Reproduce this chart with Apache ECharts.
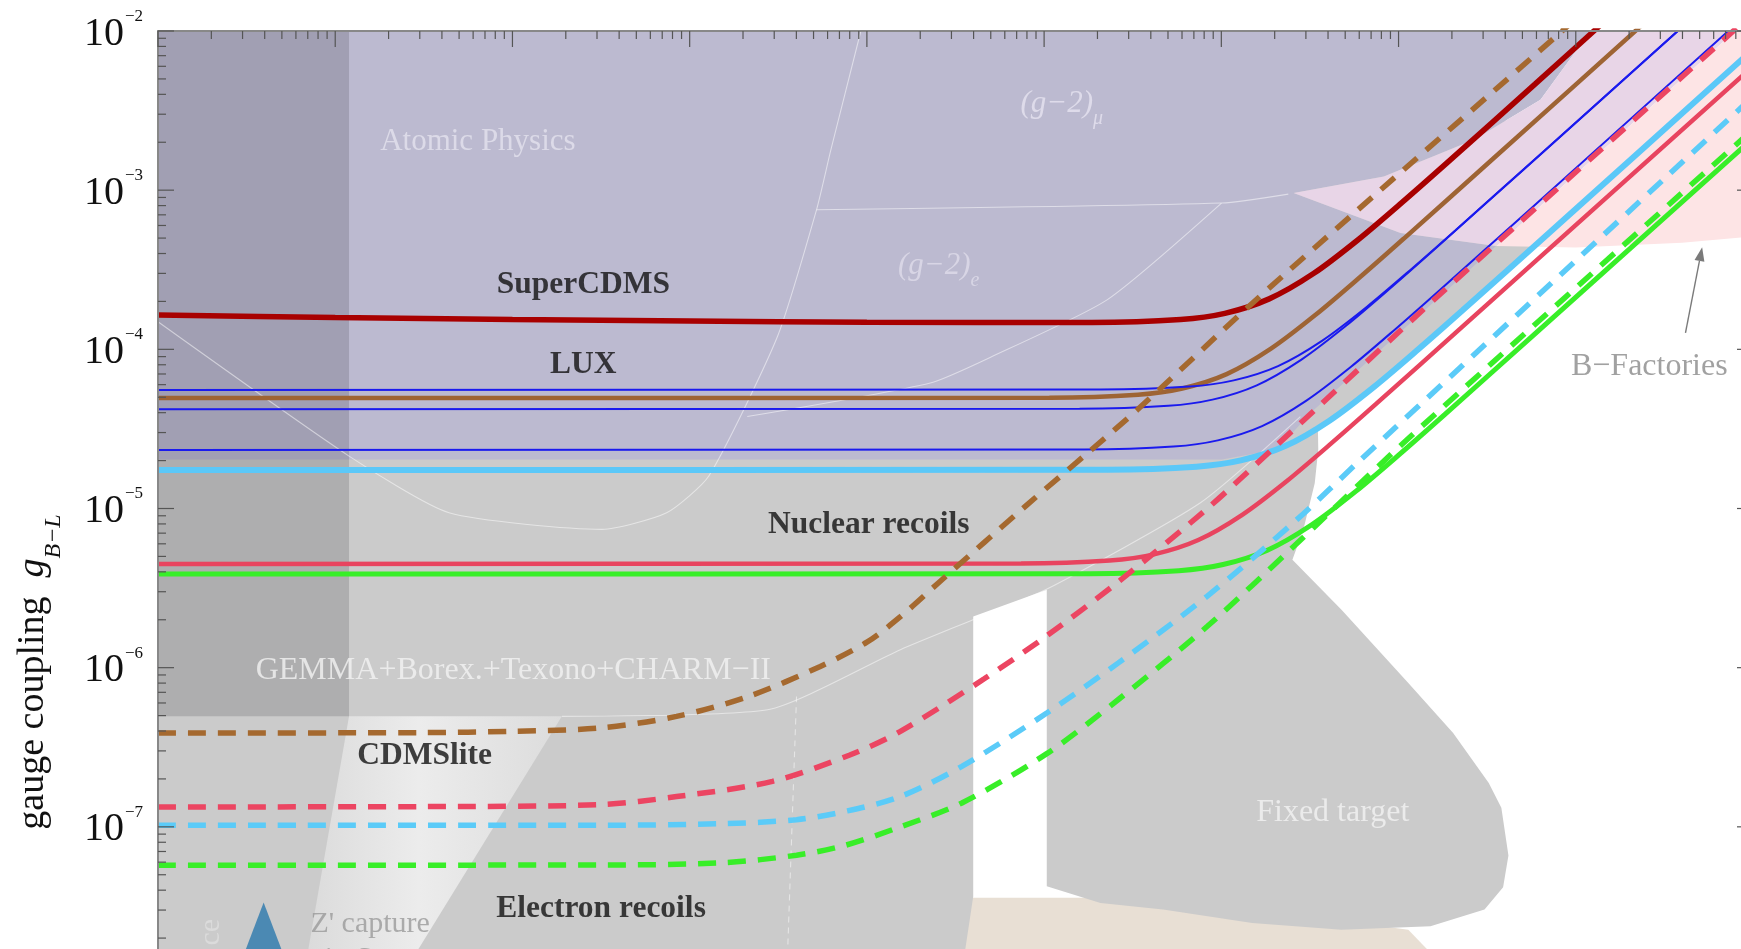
<!DOCTYPE html>
<html>
<head>
<meta charset="utf-8">
<script src="https://cdn.jsdelivr.net/npm/echarts/dist/echarts.min.js"></script>
<style>
html,body{margin:0;padding:0;background:#ffffff;}
#chart{width:1741px;height:949px;}
</style>
</head>
<body>
<div id="chart"></div>
<script>
// ---------- DATA (log10 of Z' mass in MeV, log10 of gauge coupling) ----------
// Nuclear-recoil limits (solid)
const superCDMS   = [[-5,-3.785],[-4,-3.80],[-3,-3.812],[-2,-3.822],[-1,-3.83],[0.27,-3.832],[0.77,-3.813],[1.02,-3.774],[1.27,-3.683],[1.52,-3.524],[1.77,-3.313],[2.02,-3.077],[2.27,-2.832],[2.77,-2.334],[3.4,-1.70]];
const luxBrown    = [[-5,-4.306],[0.03,-4.304],[0.53,-4.285],[0.78,-4.246],[1.03,-4.156],[1.28,-3.996],[1.53,-3.785],[1.78,-3.549],[2.03,-3.304],[2.53,-2.806],[3.6,-1.736]];
const blueA       = [[-5,-4.255],[0.32,-4.253],[0.82,-4.234],[1.07,-4.195],[1.32,-4.105],[1.57,-3.945],[1.82,-3.734],[2.07,-3.498],[2.32,-3.253],[2.82,-2.755],[3.9,-1.675]];
const blueB       = [[-5,-4.376],[0.2,-4.374],[0.7,-4.355],[0.95,-4.316],[1.2,-4.226],[1.45,-4.066],[1.7,-3.855],[1.95,-3.619],[2.2,-3.374],[2.7,-2.876],[3.9,-1.676]];
const blueC       = [[-5,-4.632],[0.23,-4.630],[0.73,-4.611],[0.98,-4.572],[1.23,-4.482],[1.48,-4.322],[1.73,-4.111],[1.98,-3.875],[2.23,-3.630],[2.73,-3.132],[4.1,-1.76]];
const cyanSolid   = [[-5,-4.758],[0.36,-4.756],[0.86,-4.737],[1.11,-4.698],[1.36,-4.608],[1.61,-4.448],[1.86,-4.237],[2.11,-4.001],[2.36,-3.756],[2.86,-3.258],[4.1,-2.016]];
const redSolid    = [[-5,-5.348],[-0.13,-5.346],[0.37,-5.327],[0.62,-5.288],[0.87,-5.198],[1.12,-5.038],[1.37,-4.827],[1.62,-4.591],[1.87,-4.346],[2.37,-3.848],[4.1,-2.121]];
const greenSolid  = [[-5,-5.412],[0.26,-5.41],[0.76,-5.391],[1.01,-5.352],[1.26,-5.262],[1.51,-5.102],[1.76,-4.891],[2.01,-4.655],[2.26,-4.41],[2.76,-3.912],[4.1,-2.575]];
// Electron-recoil limits (dashed)
const brownDashed = [[-5,-6.411],[-3.5,-6.408],[-3,-6.400],[-2.505,-6.379],[-2.074,-6.306],[-1.668,-6.181],[-1.263,-5.992],[-1.0,-5.84],[-0.811,-5.68],[-0.589,-5.46],[-0.085,-4.966],[0.267,-4.631],[0.526,-4.38],[1.175,-3.71],[1.727,-3.166],[2.923,-2.0],[3.3,-1.62]];
const redDashed   = [[-5,-6.875],[-3.5,-6.873],[-2.505,-6.861],[-2.074,-6.81],[-1.533,-6.714],[-1.1,-6.55],[-0.811,-6.40],[-0.338,-6.07],[0.015,-5.80],[0.419,-5.46],[0.921,-5.00],[1.30,-4.615],[2.256,-3.632],[4.1,-1.79]];
const cyanDashed  = [[-5,-6.99],[-2.5,-6.99],[-1.805,-6.98],[-1.397,-6.955],[-1.11,-6.90],[-0.811,-6.81],[-0.464,-6.62],[0.015,-6.285],[0.419,-5.97],[0.921,-5.55],[1.426,-5.07],[1.78,-4.70],[4.1,-2.31]];
const greenDashed = [[-5,-7.241],[-2.5,-7.24],[-1.805,-7.225],[-1.397,-7.178],[-1.128,-7.118],[-0.811,-7.0],[-0.464,-6.85],[0.015,-6.54],[0.419,-6.2],[0.921,-5.74],[1.426,-5.22],[2.055,-4.56],[4.1,-2.52]];

// Excluded regions (polygon outlines)
const grayRegion  = [[-5,-2],[2.5,-2],[2.75,-3.36],[2.36,-3.756],[2.11,-4.001],[1.86,-4.237],[1.61,-4.448],[1.545,-4.50],[1.547,-4.629],[1.527,-4.841],[1.47,-5.10],[1.422,-5.257],[1.401,-5.322],[1.678,-5.636],[2.055,-6.097],[2.308,-6.410],[2.509,-6.725],[2.58,-6.88],[2.62,-7.18],[2.59,-7.38],[2.485,-7.520],[2.180,-7.625],[1.678,-7.646],[1.174,-7.604],[0.671,-7.520],[0.318,-7.479],[0.015,-7.374],[0.015,-5.510],[-0.400,-5.678],[-0.400,-7.437],[-0.476,-8],[-5,-8]];
const beigeRegion = [[-0.489,-7.446],[0.40,-7.446],[1.2,-7.52],[2.055,-7.646],[2.36,-8],[-0.489,-8]];
const sunCapture  = [[-3.922,-6.306],[-2.721,-6.306],[-3.659,-8],[-4.188,-8]];
const darkBand    = [[-5,-2],[-3.922,-2],[-3.922,-6.306],[-5,-6.306]];
const purpleRegion= [[-5,-2],[3.083,-2],[2.801,-2.432],[2.425,-2.683],[1.917,-2.914],[1.408,-3.018],[2.011,-3.269],[2.55,-3.35],[1.504,-4.399],[1.316,-4.629],[1.003,-4.692],[-5,-4.692]];
const lavenderRegion = [[1.408,-3.018],[1.917,-2.914],[2.425,-2.683],[2.801,-2.432],[3.083,-2],[3.90,-2],[2.55,-3.35],[2.011,-3.269]];
const bFactories  = [[2.55,-3.35],[3.90,-2],[4.2,-2],[4.2,-3.27],[3.6,-3.33],[3.0,-3.36]];

// Thin boundary lines
const atomicEdge  = [[-5,-3.827],[-3.922,-4.671],[-3.358,-5.027],[-2.494,-5.131],[-2.130,-5.027],[-1.892,-4.796],[-1.504,-3.918],[-1.284,-3.123],[-1.203,-2.746],[-1.034,-2]];
const g2eTopEdge  = [[-1.284,-3.123],[1.003,-3.081],[1.378,-3.025]];
const g2eDiagEdge = [[1.001,-3.081],[0.355,-3.689],[-0.294,-4.045],[-0.642,-4.211],[-1.675,-4.422]];
const gemmaEdge   = [[-2.721,-6.306],[-1.560,-6.264],[-0.811,-5.887],[-0.401,-5.699],[0.013,-5.508],[0.882,-4.964],[1.446,-4.423]];
const dashedEdge  = [[-1.397,-6.181],[-1.454,-8]];

const blueTriangle = [[-4.404,-7.727]];
const bFactArrow   = [[3.619,-3.897],[3.713,-3.358]];

// Ticks
const xTickDecades = [-5,-4,-3,-2,-1,0,1,2,3,4];
const yTickDecades = [-8,-7,-6,-5,-4,-3,-2];
const minorSteps   = [2,3,4,5,6,7,8,9];

// Annotations
const annotationText = ['Atomic Physics','(g−2)μ','(g−2)e','SuperCDMS','LUX','Nuclear recoils','CDMSlite','Electron recoils','GEMMA+Borex.+Texono+CHARM−II','Fixed target','Z\' capture','in Sun','ce','B−Factories'];
const annotationAt   = [[-3.195,-2.697],[0.10,-2.488],[-0.595,-3.506],[-2.60,-3.597],[-2.60,-4.099],[-0.99,-5.103],[-3.496,-6.554],[-2.50,-7.516],[-2.995,-6.017],[1.629,-6.909],[-3.803,-7.614],[-3.84,-7.83],[-4.699,-7.662],[3.415,-4.106]];

// ---------- BUILD ----------
const SERIF = "'Liberation Serif','Times New Roman','DejaVu Serif',serif";
const toData = pts => pts.map(p => [Math.pow(10, p[0]), Math.pow(10, p[1])]);

function curve(name, pts, color, width, dashed, z) {
  return {
    name, type: 'line', data: toData(pts), symbol: 'none', showSymbol: false,
    smooth: 0.3, silent: true, clip: true, z,
    lineStyle: { color, width, type: dashed ? [18, 12] : 'solid', cap: 'butt' }
  };
}
function thin(name, pts, dashed) {
  return {
    name, type: 'line', data: toData(pts), symbol: 'none', showSymbol: false,
    smooth: 0.2, silent: true, clip: true, z: 7,
    lineStyle: { color: 'rgba(255,255,255,0.5)', width: 1.1, type: dashed ? [6, 5] : 'solid' }
  };
}
function region(name, pts, fill, z) {
  const data = toData(pts);
  return {
    name, type: 'custom', coordinateSystem: 'cartesian2d', silent: true, clip: true, z,
    data,
    renderItem: (params, api) => params.dataIndex === 0 ? {
      type: 'polygon', shape: { points: data.map(d => api.coord(d)) }, style: { fill }
    } : null
  };
}
function ticks(name, data, dir) {
  return {
    name, type: 'custom', coordinateSystem: 'cartesian2d', silent: true, z: 30, data,
    renderItem: (params, api) => {
      const p = api.coord([api.value(0), api.value(1)]);
      const len = api.value(2) ? 16 : 8;
      let x2 = p[0], y2 = p[1];
      if (dir === 'down') y2 += len; else if (dir === 'right') x2 += len; else x2 -= len;
      return { type: 'line', shape: { x1: p[0], y1: p[1], x2, y2 }, style: { stroke: '#555', lineWidth: 1.2 } };
    }
  };
}

const topTicks = [], leftTicks = [], rightTicks = [];
xTickDecades.forEach(d => {
  topTicks.push([Math.pow(10, d), 1e-2, 1]);
  if (d < 4) minorSteps.forEach(k => topTicks.push([k * Math.pow(10, d), 1e-2, 0]));
});
yTickDecades.forEach(d => {
  leftTicks.push([1e-5, Math.pow(10, d), 1]);
  rightTicks.push([1e4, Math.pow(10, d), 1]);
  if (d < -2) minorSteps.forEach(k => {
    leftTicks.push([1e-5, k * Math.pow(10, d), 0]);
    rightTicks.push([1e4, k * Math.pow(10, d), 0]);
  });
});

const boldStyle = { fontFamily: SERIF, fontWeight: 'bold', fontSize: 31.5, color: '#111' };
const whiteStyle = { fontFamily: SERIF, fontSize: 32, color: '#f2f2f2' };
const labelStyles = [
  { fontFamily: SERIF, fontSize: 31, color: '#e4e2ee' },
  { formatter: '{i|(g−2)}{s|μ}', rich: { i: { fontFamily: SERIF, fontStyle: 'italic', fontSize: 31, color: '#e6e4f0', lineHeight: 31, verticalAlign: 'top' }, s: { fontFamily: SERIF, fontStyle: 'italic', fontSize: 20, color: '#e6e4f0', lineHeight: 41, verticalAlign: 'bottom' } } },
  { formatter: '{i|(g−2)}{s|e}', rich: { i: { fontFamily: SERIF, fontStyle: 'italic', fontSize: 31, color: '#dedcea', lineHeight: 31, verticalAlign: 'top' }, s: { fontFamily: SERIF, fontStyle: 'italic', fontSize: 20, color: '#dedcea', lineHeight: 41, verticalAlign: 'bottom' } } },
  boldStyle, boldStyle, boldStyle, boldStyle, boldStyle,
  whiteStyle,
  whiteStyle,
  { fontFamily: SERIF, fontSize: 30, color: '#9a9a9a' },
  { fontFamily: SERIF, fontSize: 30, color: '#9a9a9a' },
  { fontFamily: SERIF, fontSize: 30, color: '#dedede', rotate: 90 },
  { fontFamily: SERIF, fontSize: 32, color: '#8a8a8a' }
];
const annotationData = annotationText.map((t, i) => {
  const st = Object.assign({ show: true, position: 'inside', formatter: t }, labelStyles[i]);
  return { value: toData([annotationAt[i]])[0], label: st };
});

const option = {
  animation: false,
  backgroundColor: '#ffffff',
  grid: { left: 158, right: -12, top: 31, bottom: -37, containLabel: false, outerBoundsMode: 'none' },
  xAxis: [{
    type: 'log', logBase: 10, min: 1e-5, max: 1e4, position: 'top', z: 20,
    axisLine: { show: true, onZero: false, lineStyle: { color: '#888', width: 2 } },
    axisTick: { show: false }, axisLabel: { show: false }, splitLine: { show: false }
  }],
  yAxis: [{
    type: 'log', logBase: 10, min: 1e-8, max: 1e-2, position: 'left', z: 20,
    axisLine: { show: true, onZero: false, lineStyle: { color: '#888', width: 2 } },
    axisTick: { show: false }, splitLine: { show: false },
    axisLabel: {
      margin: 15,
      formatter: v => { const e = Math.round(Math.log10(v)); return yTickDecades.includes(e) ? '{b|10}{e|−' + Math.abs(e) + '}' : ''; },
      rich: {
        b: { fontFamily: SERIF, fontSize: 40, color: '#111', lineHeight: 40, verticalAlign: 'bottom' },
        e: { fontFamily: SERIF, fontSize: 17, color: '#111', lineHeight: 46, verticalAlign: 'top', padding: [0, 0, 0, 1] }
      }
    }
  }, {
    type: 'log', logBase: 10, min: 1e-8, max: 1e-2, position: 'right', z: 20,
    axisLine: { show: true, onZero: false, lineStyle: { color: '#888', width: 2 } },
    axisTick: { show: false }, axisLabel: { show: false }, splitLine: { show: false }
  }],
  graphic: [{
    type: 'text', x: 40, y: 672, rotation: Math.PI / 2, z: 100,
    style: {
      text: '{a|gauge coupling  }{g|g}{s|B−L}',
      align: 'center', verticalAlign: 'middle',
      rich: {
        a: { fontFamily: SERIF, fontSize: 38, fill: '#111', lineHeight: 40, verticalAlign: 'top' },
        g: { fontFamily: SERIF, fontStyle: 'italic', fontSize: 38, fill: '#111', lineHeight: 40, verticalAlign: 'top' },
        s: { fontFamily: SERIF, fontStyle: 'italic', fontSize: 24, fill: '#111', lineHeight: 52, verticalAlign: 'bottom' }
      }
    }
  }],
  series: [
    region('beige', beigeRegion, '#e8dfd4', 1),
    region('gray', grayRegion, '#cbcbcb', 2),
    region('sunCapture', sunCapture, {
      type: 'linear', x: 0, y: 0, x2: 1, y2: 0,
      colorStops: [{ offset: 0, color: '#dadada' }, { offset: 0.45, color: '#ececec' }, { offset: 1, color: '#dcdcdc' }]
    }, 3),
    region('purple', purpleRegion, '#bcbad0', 4),
    region('lavender', lavenderRegion, '#e8d5e7', 4),
    region('bFactories', bFactories, '#fde4e5', 4),
    region('darkBand', darkBand, 'rgba(0,0,10,0.14)', 5),
    thin('atomic', atomicEdge),
    thin('g2eTop', g2eTopEdge),
    thin('g2eDiag', g2eDiagEdge),
    thin('gemma', gemmaEdge),
    thin('dashedEdge', dashedEdge, true),
    curve('SuperCDMS', superCDMS, '#a80000', 5.5, false, 10),
    curve('LUX', luxBrown, '#9e6434', 4.5, false, 10),
    curve('blueA', blueA, '#1a1aee', 2, false, 10),
    curve('blueB', blueB, '#1a1aee', 2, false, 10),
    curve('blueC', blueC, '#1a1aee', 2, false, 10),
    curve('cyanSolid', cyanSolid, '#5bc8f8', 6, false, 10),
    curve('redSolid', redSolid, '#e8445f', 4.5, false, 10),
    curve('greenSolid', greenSolid, '#38ee28', 5, false, 10),
    curve('brownDashed', brownDashed, '#a5692f', 5.5, true, 11),
    curve('redDashed', redDashed, '#ec4562', 5.5, true, 11),
    curve('cyanDashed', cyanDashed, '#5bcbf8', 5.5, true, 11),
    curve('greenDashed', greenDashed, '#38ee28', 5.5, true, 11),
    {
      name: 'arrow', type: 'custom', coordinateSystem: 'cartesian2d', silent: true, z: 12,
      data: toData(bFactArrow),
      renderItem: (params, api) => {
        if (params.dataIndex !== 0) return null;
        const pts = toData(bFactArrow).map(d => api.coord(d));
        const [a, b] = pts;
        const dx = b[0] - a[0], dy = b[1] - a[1], L = Math.hypot(dx, dy);
        const ux = dx / L, uy = dy / L, hl = 14, hw = 5;
        const bx = b[0] - ux * hl, by = b[1] - uy * hl;
        return { type: 'group', children: [
          { type: 'line', shape: { x1: a[0], y1: a[1], x2: bx, y2: by }, style: { stroke: '#7a7a7a', lineWidth: 1.4 } },
          { type: 'polygon', shape: { points: [[b[0], b[1]], [bx - uy * hw, by + ux * hw], [bx + uy * hw, by - ux * hw]] }, style: { fill: '#7a7a7a' } }
        ] };
      }
    },
    {
      name: 'triangle', type: 'scatter', data: toData(blueTriangle), symbol: 'triangle', symbolSize: [61, 80],
      silent: true, z: 12, clip: false, itemStyle: { color: '#2b78ad' }
    },
    {
      name: 'labels', type: 'scatter', data: annotationData, symbolSize: 1, silent: true, z: 40, clip: false,
      itemStyle: { color: 'rgba(0,0,0,0)' }
    },
    ticks('topTicks', topTicks, 'down'),
    ticks('leftTicks', leftTicks, 'right'),
    ticks('rightTicks', rightTicks, 'left')
  ]
};

const chart = echarts.init(document.getElementById('chart'), null, { renderer: 'canvas' });
chart.setOption(option);
</script>
</body>
</html>
